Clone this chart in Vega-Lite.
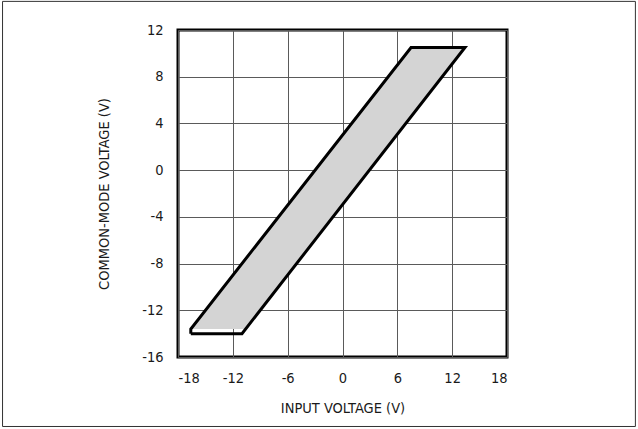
{
  "$schema": "https://vega.github.io/schema/vega-lite/v6.json",
  "width": 329,
  "height": 327,
  "autosize": {"type": "none"},
  "padding": {"left": 178, "top": 30, "right": 131, "bottom": 72},
  "background": "white",
  "datasets": {
    "outline": [
      {"i": 0, "vin": -16.6, "vcm": -14.0},
      {"i": 1, "vin": -16.6, "vcm": -13.6},
      {"i": 2, "vin": 7.5, "vcm": 10.5},
      {"i": 3, "vin": 13.4, "vcm": 10.5},
      {"i": 4, "vin": -11.0, "vcm": -14.0},
      {"i": 5, "vin": -16.6, "vcm": -14.0}
    ],
    "fill": [
      {"i": 0, "vin": -16.5, "vcm": -13.6},
      {"i": 1, "vin": 7.5, "vcm": 10.5},
      {"i": 2, "vin": 13.4, "vcm": 10.5},
      {"i": 3, "vin": -10.6, "vcm": -13.6},
      {"i": 4, "vin": -16.5, "vcm": -13.6}
    ]
  },
  "config": {
    "view": {"stroke": "black", "strokeWidth": 3},
    "font": "DejaVu Sans Condensed",
    "axis": {
      "labelFont": "DejaVu Sans Condensed",
      "titleFont": "DejaVu Sans Condensed",
      "labelFontSize": 14.5,
      "titleFontSize": 14.5,
      "titleFontWeight": "normal",
      "labelColor": "#1a1a1a",
      "titleColor": "#1a1a1a",
      "gridColor": "#5a5a5a",
      "gridWidth": 1,
      "gridOpacity": 1,
      "domain": false,
      "ticks": false,
      "labelExpr": "toString(datum.value)"
    }
  },
  "layer": [
    {
      "data": {"name": "fill"},
      "mark": {"type": "line", "fill": "#d4d4d4", "stroke": null, "strokeWidth": 0, "clip": false},
      "encoding": {
        "x": {
          "field": "vin", "type": "quantitative",
          "scale": {"domain": [-18, 18], "nice": false},
          "axis": {"values": [-18, -12, -6, 0, 6, 12, 18], "title": "INPUT VOLTAGE (V)", "labelPadding": 14, "titlePadding": 17, "grid": true}
        },
        "y": {
          "field": "vcm", "type": "quantitative",
          "scale": {"domain": [-16, 12], "nice": false},
          "axis": {"values": [-16, -12, -8, -4, 0, 4, 8, 12], "title": "COMMON-MODE VOLTAGE (V)", "labelPadding": 15, "titlePadding": 30, "grid": true}
        },
        "order": {"field": "i", "type": "quantitative"}
      }
    },
    {
      "data": {"name": "outline"},
      "mark": {"type": "line", "color": "black", "strokeWidth": 3, "strokeJoin": "miter", "clip": false},
      "encoding": {
        "x": {"field": "vin", "type": "quantitative"},
        "y": {"field": "vcm", "type": "quantitative"},
        "order": {"field": "i", "type": "quantitative"}
      }
    },
    {
      "data": {"values": [{}]},
      "mark": {"type": "rect", "fill": null, "stroke": "#333", "strokeWidth": 1, "clip": false},
      "encoding": {
        "x": {"datum": -37.2, "type": "quantitative"},
        "x2": {"datum": 32.05},
        "y": {"datum": 14.45, "type": "quantitative"},
        "y2": {"datum": -21.95}
      }
    }
  ]
}
